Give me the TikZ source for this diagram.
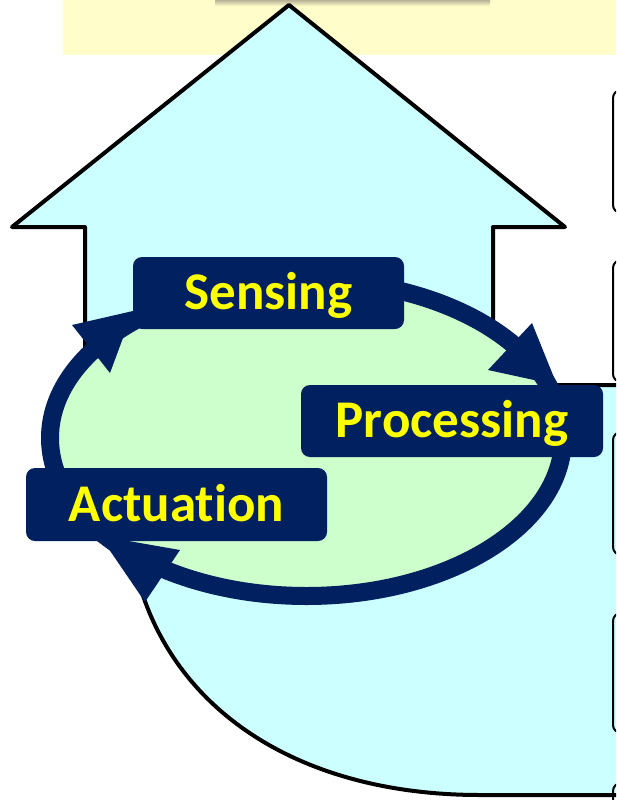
\documentclass[tikz,border=0pt]{standalone}
\usepackage{fontspec}
\newfontfamily\labelfont[RawFeature={-liga;-dlig;-clig}]{Carlito}
\definecolor{navy}{HTML}{002060}
\definecolor{cyanfill}{HTML}{CCFFFF}
\definecolor{greenfill}{HTML}{CCFFCC}
\definecolor{bgyellow}{HTML}{FFFDC9}
\definecolor{labelyellow}{HTML}{FFFF00}
\begin{document}
\begin{tikzpicture}[x=1pt,y=-1pt,
  lbl/.style={fill=navy, rounded corners=9pt, text=labelyellow,
    font=\labelfont\bfseries\fontsize{53}{60}\selectfont,
    text height=33.5pt, text depth=0pt, inner sep=0pt, minimum height=72pt},
  sidebox/.style={draw=black, line width=2pt, rounded corners=8pt},
  bigarrow/.style={draw=black, line width=4pt, fill=cyanfill, line join=round},
  head/.style={fill=navy}]
\useasboundingbox (0,0) rectangle (616,800);
\clip (0,0) rectangle (616,800);
% background strip at the top
\fill[bgyellow] (63,0) rectangle (616,55);
\shade[top color=gray!80!brown, bottom color=bgyellow, opacity=0.6] (215,0) rectangle (490,6);
% big bent arrow
\draw[bigarrow] (289,5) -- (565,227) -- (493,227) -- (493,385) -- (640,385)
  -- (640,795) -- (480,795) .. controls (270,795) and (127,680) .. (127,495)
  -- (85,440) -- (85,227) -- (12,227) -- cycle;
% boxes cut at the right edge
\foreach \ya/\yb in {90/213, 260/382, 432/555, 613/733, 783/860}
  \draw[sidebox] (613,\ya) rectangle (680,\yb);
% cycle loop
\draw[navy, line width=18pt, fill=greenfill] (306.5,438) ellipse [x radius=256.5, y radius=158];
% arrow heads
\coordinate (h1) at (557,385);
\coordinate (h2) at (100,536);
\coordinate (h3) at (133,311);
\fill[head] (h1) -- (532,323) -- (488,370) -- cycle;
\fill[head] (h2) -- (180,550) -- (145,602) -- cycle;
\fill[head] (h3) -- (72,325) -- (110,373) -- cycle;
% labels
\node[lbl, minimum width=271pt] (sensing) at (268.5,293) {Sensing};
\node[lbl, minimum width=302pt] (processing) at (452,421) {Processing};
\node[lbl, minimum width=301pt, minimum height=73pt] (actuation) at (176.5,504.5) {Actuation};
\end{tikzpicture}
\end{document}
